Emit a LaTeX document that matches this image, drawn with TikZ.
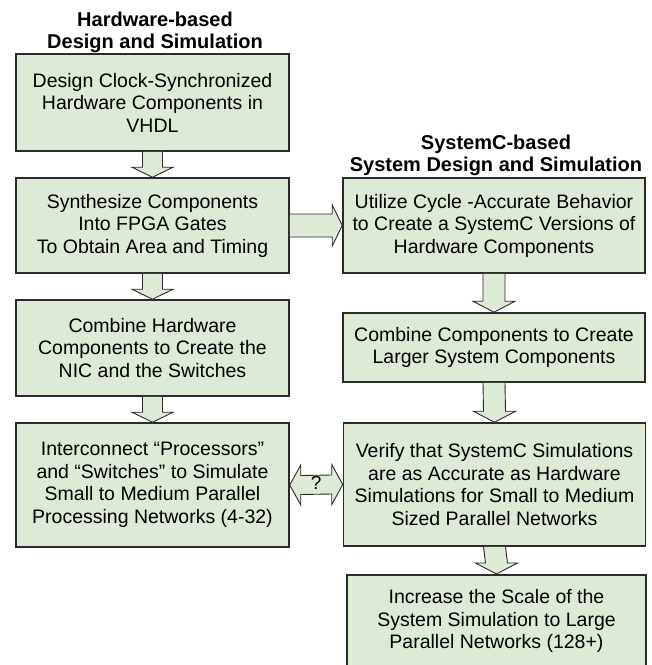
\documentclass[tikz,border=0pt]{standalone}
\usepackage{fontspec}
\setmainfont{Liberation Sans}
\usetikzlibrary{calc}
\definecolor{boxfill}{HTML}{DDEAD6}
\definecolor{boxline}{HTML}{2B2B2B}
\tikzset{
  stepbox/.style={draw=boxline, fill=boxfill, line width=1.5pt, inner sep=0pt, align=center,
    font=\fontsize{19.5}{22.5}\selectfont, text=black},
  titletext/.style={align=center, inner sep=0pt, font=\bfseries\fontsize{20}{22}\selectfont},
  barrow/.style={draw=boxline, fill=boxfill, line width=0.9pt, line join=miter}
}
\newcommand\myDownArrow[2]{%
  \filldraw[barrow] ($(#1.south)+(-10,0)$) -- ($(#2.north)+(-10,-10)$) -- ($(#2.north)+(-20.5,-10)$)
    -- (#2.north) -- ($(#2.north)+(20.5,-10)$) -- ($(#2.north)+(10,-10)$) -- ($(#1.south)+(10,0)$);}
\newcommand\myDownArrowR[2]{%
  \filldraw[barrow] ($(#1.south)+(-11,0)$) -- ($(#2.north)+(-11,-11)$) -- ($(#2.north)+(-21,-11)$)
    -- (#2.north) -- ($(#2.north)+(21,-11)$) -- ($(#2.north)+(11,-11)$) -- ($(#1.south)+(11,0)$);}
\begin{document}
\begin{tikzpicture}[x=1pt,y=-1pt]
\useasboundingbox (0,0) rectangle (652,665);
\clip (0,0) rectangle (652,665);
% titles
\node[titletext] (t1) at (155,32) {Hardware-based\\Design and Simulation};
\node[titletext] (t2) at (496,155) {SystemC-based\\System Design and Simulation};
% left column
\node[stepbox, minimum width=273, minimum height=97] (l1) at (152.5,102.5)
  {Design Clock-Synchronized\\Hardware Components in\\VHDL};
\node[stepbox, minimum width=273, minimum height=95] (l2) at (152.5,225.5)
  {Synthesize Components\\Into FPGA Gates\\To Obtain Area and Timing};
\node[stepbox, minimum width=273, minimum height=96] (l3) at (152.5,348)
  {Combine Hardware\\Components to Create the\\NIC and the Switches};
\node[stepbox, minimum width=273, minimum height=124] (l4) at (152.5,485)
  {Interconnect “Processors”\\and “Switches” to Simulate\\Small to Medium Parallel\\Processing Networks (4-32)};
% right column
\node[stepbox, minimum width=302, minimum height=95] (r1) at (494,225.5)
  {Utilize Cycle -Accurate Behavior\\to Create a SystemC Versions of\\Hardware Components};
\node[stepbox, minimum width=302, minimum height=69] (r2) at (494,347.5)
  {Combine Components to Create\\Larger System Components};
\node[stepbox, minimum width=302, minimum height=123] (r3) at (494.5,484.5)
  {Verify that SystemC Simulations\\are as Accurate as Hardware\\Simulations for Small to Medium\\Sized Parallel Networks};
\node[stepbox, minimum width=299, minimum height=93, anchor=north] (r4) at (496.5,574)
  {Increase the Scale of the\\System Simulation to Large\\Parallel Networks (128+)};
% vertical block arrows
\myDownArrow{l1}{l2}
\myDownArrow{l2}{l3}
\myDownArrow{l3}{l4}
\myDownArrowR{r1}{r2}
\myDownArrowR{r2}{r3}
\myDownArrowR{r3}{r4}
% horizontal arrow l2 -> r1
\filldraw[barrow] ($(l2.east)+(0,-11.5)$) -- ($(r1.west)+(-10,-11.5)$) -- ($(r1.west)+(-10,-20.5)$)
  -- (r1.west) -- ($(r1.west)+(-10,20.5)$) -- ($(r1.west)+(-10,11.5)$) -- ($(l2.east)+(0,11.5)$);
% double arrow l4 <-> r3
\filldraw[barrow] (l4.east) -- ($(l4.east)+(11,-20)$) -- ($(l4.east)+(11,-9.5)$)
  -- ($(r3.west)+(-11,-9.5)$) -- ($(r3.west)+(-11,-20)$) -- (r3.west)
  -- ($(r3.west)+(-11,20)$) -- ($(r3.west)+(-11,9.5)$) -- ($(l4.east)+(11,9.5)$)
  -- ($(l4.east)+(11,20)$) -- cycle;
\node[font=\fontsize{19}{20}\selectfont, inner sep=0pt] (q) at ($(l4.east)!0.5!(r3.west)+(0,-1.5)$) {?};
\end{tikzpicture}
\end{document}
